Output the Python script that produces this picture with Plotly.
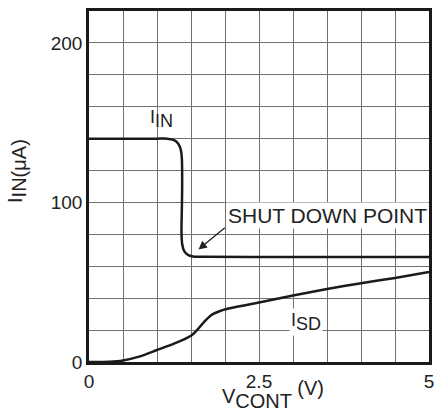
import plotly.graph_objects as go

# Data
iin_v = [0, 1.0, 1.15, 1.25, 1.31, 1.35, 1.365, 1.37, 1.365, 1.36, 1.37, 1.40, 1.46, 1.55, 1.7, 3.0, 5.0]
iin_i = [140, 140, 140, 139, 137, 133, 128, 110, 95, 82, 74, 69.5, 67, 66, 66, 65.8, 65.8]

isd_v = [0, 0.3, 0.5, 0.75, 1.0, 1.25, 1.5, 1.6, 1.7, 1.8, 1.9, 2.0, 2.5, 3.0, 3.5, 4.0, 4.5, 5.0]
isd_i = [0, 0.2, 1, 3.5, 7.5, 11.5, 16.5, 20.5, 25.5, 29.5, 31.5, 33, 37.3, 41.7, 45.7, 49.4, 52.7, 56.4]

x_ticks = [0, 2.5, 5]
x_tick_labels = ["0", "2.5", "5"]
y_ticks = [0, 100, 200]
y_tick_labels = ["0", "100", "200"]

FONT = "Liberation Sans, Arial, sans-serif"
GRID = "#707070"
TXT = "#222"


def sub(s, size):
    return "<sub><span style='font-size:%dpx'>%s</span></sub>" % (size, s)


def sup(s, size):
    return "<sup><span style='font-size:%dpx'>%s</span></sup>" % (size, s)


fig = go.Figure()
fig.add_trace(go.Scatter(x=iin_v, y=iin_i, mode="lines",
                         line=dict(color="#1a1a1a", width=2.5, shape="spline", smoothing=0.6),
                         showlegend=False, hoverinfo="skip"))
fig.add_trace(go.Scatter(x=isd_v, y=isd_i, mode="lines",
                         line=dict(color="#1a1a1a", width=2.5, shape="spline", smoothing=0.6),
                         showlegend=False, hoverinfo="skip"))

fig.add_annotation(x=1.06, y=152, text="I" + sub("IN", 18), showarrow=False,
                   font=dict(family=FONT, size=18, color=TXT))
fig.add_annotation(x=3.19, y=25, text="I" + sub("SD", 18), showarrow=False,
                   bgcolor="white", font=dict(family=FONT, size=18, color=TXT))
fig.add_annotation(x=1.61, y=70.5, ax=2.02, ay=85, axref="x", ayref="y",
                   text="", showarrow=True, arrowhead=2, arrowsize=1.3,
                   arrowwidth=1.3, arrowcolor=TXT)
fig.add_annotation(x=3.5, y=92, text="SHUT DOWN POINT", showarrow=False,
                   bgcolor="white", borderpad=1,
                   font=dict(family=FONT, size=21, color=TXT))

# axis titles (placed as paper annotations to match the reference offsets)
fig.add_annotation(xref="paper", yref="paper", x=0.542, y=-0.092,
                   xanchor="center", yanchor="middle", showarrow=False,
                   text="V" + sub("CONT", 20) + " " + sup("(V)", 20),
                   font=dict(family=FONT, size=20, color=TXT))
fig.add_annotation(xref="paper", yref="paper", x=-0.214, y=0.545,
                   xanchor="center", yanchor="middle", showarrow=False, textangle=-90,
                   text="I" + sub("IN(μA)", 20),
                   font=dict(family=FONT, size=20, color=TXT))

fig.update_xaxes(range=[0, 5], tickvals=x_ticks, ticktext=x_tick_labels,
                 showgrid=True, gridcolor=GRID, gridwidth=1,
                 minor=dict(dtick=0.5, tick0=0, showgrid=True, gridcolor=GRID, gridwidth=1),
                 showline=True, linecolor="#1a1a1a", linewidth=2.5, mirror=True,
                 ticks="", zeroline=False,
                 tickfont=dict(family=FONT, size=19, color=TXT))
fig.update_yaxes(range=[0, 220], tickvals=y_ticks, ticktext=y_tick_labels,
                 showgrid=True, gridcolor=GRID, gridwidth=1,
                 minor=dict(dtick=20, tick0=0, showgrid=True, gridcolor=GRID, gridwidth=1),
                 showline=True, linecolor="#1a1a1a", linewidth=2.5, mirror=True,
                 ticks="", zeroline=False,
                 tickfont=dict(family=FONT, size=19, color=TXT))

fig.update_layout(width=442, height=413, autosize=False,
                  margin=dict(l=89, r=8, t=10, b=51),
                  plot_bgcolor="white", paper_bgcolor="white")

fig.write_html("out.html", config={"displayModeBar": False},
               post_script="document.body.style.margin='0';document.body.style.overflow='hidden';")
